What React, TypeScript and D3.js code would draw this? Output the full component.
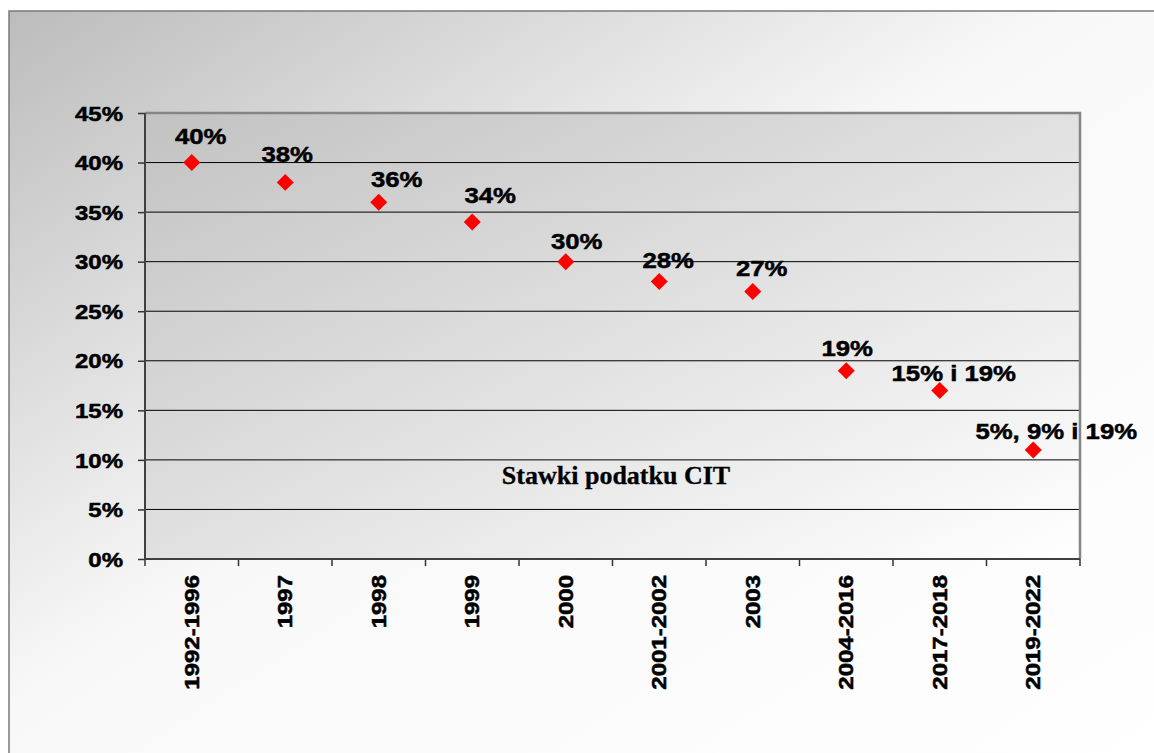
import * as d3 from 'd3';
import { useEffect, useRef } from 'react';

const periods = [
  '1992-1996', '1997', '1998', '1999', '2000',
  '2001-2002', '2003', '2004-2016', '2017-2018', '2019-2022',
];
const rates = [0.4, 0.38, 0.36, 0.34, 0.3, 0.28, 0.27, 0.19, 0.17, 0.11];
const rateLabels = [
  '40%', '38%', '36%', '34%', '30%', '28%', '27%', '19%', '15% i 19%', '5%, 9% i 19%',
];
const yTicks = [0, 0.05, 0.1, 0.15, 0.2, 0.25, 0.3, 0.35, 0.4, 0.45];
const chartTitle = 'Stawki podatku CIT';

// hand-placed label offsets (dx, dy) relative to each marker, as in the original
const labelNudge: [number, number][] = [
  [9, -19], [2, -20], [18, -15], [18, -19], [11, -13],
  [9, -13], [9, -15], [1, -15], [14, -10], [23, -11],
];

const W = 1154;
const H = 753;
const sans = '"Liberation Sans", Arial, sans-serif';

export default function App() {
  const svgRef = useRef<SVGSVGElement>(null);

  useEffect(() => {
    if (!svgRef.current) return;
    const svg = d3.select(svgRef.current);
    svg.selectAll('*').remove();

    const plot = { left: 145, right: 1080, top: 113, bottom: 559 };

    const defs = svg.append('defs');
    const outerGrad = defs
      .append('linearGradient')
      .attr('id', 'outerBg')
      .attr('x1', 0).attr('y1', 0).attr('x2', 1).attr('y2', 1);
    outerGrad.append('stop').attr('offset', 0).attr('stop-color', '#bcbcbc');
    outerGrad.append('stop').attr('offset', 0.45).attr('stop-color', '#f8f8f8');
    outerGrad.append('stop').attr('offset', 1).attr('stop-color', '#ffffff');

    const plotGrad = defs
      .append('linearGradient')
      .attr('id', 'plotBg')
      .attr('x1', 0).attr('y1', 0).attr('x2', 1).attr('y2', 1);
    plotGrad.append('stop').attr('offset', 0).attr('stop-color', '#c2c2c2');
    plotGrad.append('stop').attr('offset', 1).attr('stop-color', '#ffffff');

    // outer chart area
    svg.append('rect')
      .attr('x', 9).attr('y', 11)
      .attr('width', W + 20).attr('height', H + 20)
      .attr('fill', 'url(#outerBg)')
      .attr('stroke', '#7a7a7a')
      .attr('stroke-width', 1.5);

    const x = d3.scaleBand().domain(periods).range([plot.left, plot.right]).padding(0);
    const y = d3.scaleLinear().domain([0, 0.45]).range([plot.bottom, plot.top]);

    // plot area
    svg.append('rect')
      .attr('x', plot.left).attr('y', plot.top)
      .attr('width', plot.right - plot.left).attr('height', plot.bottom - plot.top)
      .attr('fill', 'url(#plotBg)');

    // gridlines
    svg.append('g')
      .selectAll('line')
      .data(yTicks.filter((t) => t > 0 && t < 0.45))
      .join('line')
      .attr('x1', plot.left).attr('x2', plot.right)
      .attr('y1', (d) => y(d)).attr('y2', (d) => y(d))
      .attr('stroke', '#000').attr('stroke-width', 1);

    // top / right border
    svg.append('path')
      .attr('d', `M${plot.left},${plot.top}H${plot.right}V${plot.bottom}`)
      .attr('fill', 'none')
      .attr('stroke', '#858585')
      .attr('stroke-width', 2.5);

    // Y axis
    const yAxis = svg.append('g')
      .attr('transform', `translate(${plot.left},0)`)
      .call(
        d3.axisLeft(y)
          .tickValues(yTicks)
          .tickFormat(d3.format('.0%'))
          .tickSize(7)
      );
    yAxis.select('.domain').remove();
    yAxis.selectAll('.tick line').attr('stroke', '#333').attr('stroke-width', 1.5);
    yAxis.selectAll('.tick text')
      .attr('x', -22 / 1.2)
      .attr('dy', '0.36em')
      .attr('transform', 'scale(1.2,1)')
      .style('font-family', sans)
      .style('font-weight', 'bold')
      .style('font-size', '20px')
      .style('fill', '#000')
      .style('stroke', '#000')
      .style('stroke-width', '0.5px');

    // X axis labels
    const xAxis = svg.append('g')
      .attr('transform', `translate(0,${plot.bottom})`)
      .call(d3.axisBottom(x).tickSize(0));
    xAxis.select('.domain').remove();
    xAxis.selectAll('.tick text')
      .attr('x', -16 / 1.2)
      .attr('y', 0)
      .attr('dy', '0.36em')
      .attr('text-anchor', 'end')
      .attr('transform', 'rotate(-90) scale(1.2,1)')
      .style('font-family', sans)
      .style('font-weight', 'bold')
      .style('font-size', '20px')
      .style('fill', '#000')
      .style('stroke', '#000')
      .style('stroke-width', '0.5px');

    // X boundary ticks
    const bounds = periods.map((p) => x(p) ?? 0).concat([plot.right]);
    svg.append('g')
      .selectAll('line')
      .data(bounds)
      .join('line')
      .attr('x1', (d) => d).attr('x2', (d) => d)
      .attr('y1', plot.bottom).attr('y2', plot.bottom + 7)
      .attr('stroke', '#333').attr('stroke-width', 1.5);

    // axis lines
    svg.append('path')
      .attr('d', `M${plot.left},${plot.top}V${plot.bottom}H${plot.right}`)
      .attr('fill', 'none')
      .attr('stroke', '#404040')
      .attr('stroke-width', 2);

    // title inside plot
    svg.append('text')
      .attr('x', 616).attr('y', 484)
      .attr('text-anchor', 'middle')
      .style('font-family', '"Liberation Serif", "Times New Roman", serif')
      .style('font-weight', 'bold')
      .style('font-size', '26px')
      .style('stroke', '#000')
      .style('stroke-width', '0.3px')
      .text(chartTitle);

    const cx = (i: number) => (x(periods[i]) ?? 0) + x.bandwidth() / 2;

    // markers
    svg.append('g')
      .selectAll('path')
      .data(rates)
      .join('path')
      .attr('d', d3.symbol(d3.symbolSquare, 144)())
      .attr('transform', (d, i) => `translate(${cx(i)},${y(d)}) rotate(45)`)
      .attr('fill', '#ff0000');

    // data labels
    svg.append('g')
      .selectAll('text')
      .data(rates)
      .join('text')
      .attr('transform', (d, i) =>
        `translate(${cx(i) + labelNudge[i][0]},${y(d) + labelNudge[i][1]}) scale(1.12,1)`)
      .attr('text-anchor', 'middle')
      .style('font-family', sans)
      .style('font-weight', 'bold')
      .style('font-size', '23px')
      .style('fill', '#000')
      .style('stroke', '#000')
      .style('stroke-width', '0.5px')
      .text((d, i) => rateLabels[i]);
  }, []);

  return (
    <svg
      ref={svgRef}
      width={W}
      height={H}
      style={{ position: 'absolute', left: 0, top: 0, background: '#fff' }}
    />
  );
}
